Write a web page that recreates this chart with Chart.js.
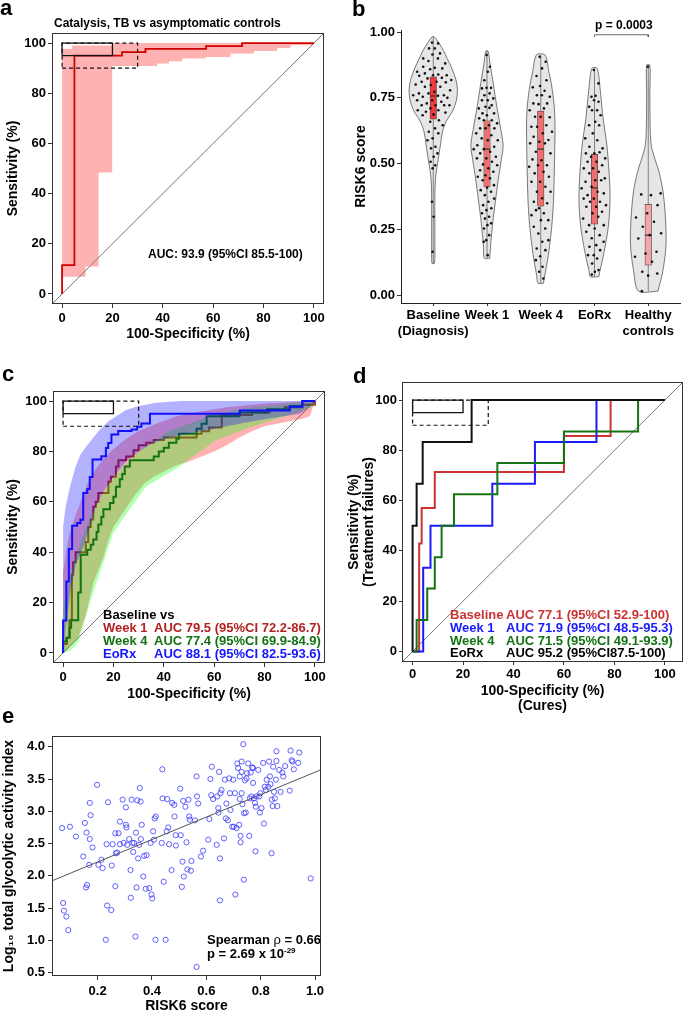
<!DOCTYPE html>
<html>
<head>
<meta charset="utf-8">
<title>RISK6 signature</title>
<script src="https://cdn.jsdelivr.net/npm/chart.js@4.4.1/dist/chart.umd.min.js"></script>
<style>
  html, body { margin: 0; padding: 0; background: #fff; }
  body { position: relative; width: 685px; height: 1015px; overflow: hidden;
         font-family: "Liberation Sans", Arial, sans-serif; font-weight: bold; color: #000; }
  canvas { position: absolute; }
  .t { position: absolute; white-space: nowrap; line-height: 1; }
  .lab { font-size: 22px; }
  .leg { font-size: 13px; line-height: 13px; }
</style>
</head>
<body>
<canvas id="rocA" width="340" height="345" style="left:0;top:0"></canvas>
<canvas id="violinB" width="345" height="345" style="left:340px;top:0"></canvas>
<canvas id="rocC" width="340" height="360" style="left:0;top:345px"></canvas>
<canvas id="rocD" width="345" height="375" style="left:340px;top:345px"></canvas>
<canvas id="scatterE" width="340" height="310" style="left:0;top:705px"></canvas>

<div class="t lab" style="left:0;top:-2.6px">a</div>
<div class="t lab" style="left:352px;top:-1.9px">b</div>
<div class="t lab" style="left:2px;top:363px">c</div>
<div class="t lab" style="left:353px;top:364.7px">d</div>
<div class="t lab" style="left:2px;top:704.7px">e</div>

<div class="t" style="left:54px;top:16.5px;font-size:12px">Catalysis, TB vs asymptomatic controls</div>
<div class="t" style="left:148px;top:247.8px;font-size:12px">AUC: 93.9 (95%CI 85.5-100)</div>
<div class="t" style="left:595px;top:19px;font-size:12px">p = 0.0003</div>

<!-- c legend -->
<div class="t leg" style="left:103px;top:608px">Baseline vs</div>
<div class="t leg" style="left:103px;top:621px;color:#b22222">Week 1</div>
<div class="t leg" style="left:154px;top:621px;color:#b22222">AUC 79.5 (95%CI 72.2-86.7)</div>
<div class="t leg" style="left:103px;top:634px;color:#137313">Week 4</div>
<div class="t leg" style="left:154px;top:634px;color:#137313">AUC 77.4 (95%CI 69.9-84.9)</div>
<div class="t leg" style="left:103px;top:647px;color:#1515ff">EoRx</div>
<div class="t leg" style="left:154px;top:647px;color:#1515ff">AUC 88.1 (95%CI 82.5-93.6)</div>

<!-- d legend -->
<div class="t leg" style="left:450px;top:608.3px;color:#cc3333">Baseline</div>
<div class="t leg" style="left:506px;top:608.3px;color:#cc3333">AUC 77.1 (95%CI 52.9-100)</div>
<div class="t leg" style="left:450px;top:620.7px;color:#1a1aff">Week 1</div>
<div class="t leg" style="left:506px;top:620.7px;color:#1a1aff">AUC 71.9 (95%CI 48.5-95.3)</div>
<div class="t leg" style="left:450px;top:634px;color:#137313">Week 4</div>
<div class="t leg" style="left:506px;top:634px;color:#137313">AUC 71.5 (95%CI 49.1-93.9)</div>
<div class="t leg" style="left:450px;top:646.3px">EoRx</div>
<div class="t leg" style="left:506px;top:646.3px">AUC 95.2 (95%CI87.5-100)</div>

<!-- e stats -->
<div class="t leg" style="left:207px;top:933px">Spearman <span style="font-weight:normal">ρ</span> = 0.66</div>
<div class="t leg" style="left:207px;top:947px">p = 2.69 x 10<span style="font-size:8px;position:relative;top:-5px">-29</span></div>

<script>
// ---------- shared ----------
const pctTicks = [0, 20, 40, 60, 80, 100];
const boxSolid = { fpr: [0, 20], sens: [95, 100] };
const boxDashed = { fpr: [0, 30], sens: [90, 100] };

// ---------- a: catalysis, TB vs asymptomatic controls ----------
const catRoc = [[0,0],[0,11.5],[4.9,11.5],[4.9,95],[23.8,95],[23.8,96.4],[33.1,96.4],[33.1,97.7],[57.2,97.7],[57.2,98.8],[71.5,98.8],[71.5,100],[100,100]];
const catCiUpper = [[0,97.7],[4,97.7],[4,99],[20,99],[20,100],[100,100]];
const catCiLower = [[0,6.9],[9.3,6.9],[9.3,10.9],[14.5,10.9],[14.5,48.4],[19.9,48.4],[19.9,90.8],[37.7,90.8],[37.7,91.8],[42.4,91.8],[42.4,92.7],[47.7,92.7],[47.7,93.8],[57,93.8],[57,94.4],[66.9,94.4],[66.9,95.8],[76.2,95.8],[76.2,96.8],[85.4,96.8],[85.4,98],[90.7,98],[90.7,99.1],[100,99.1]];

// ---------- b: RISK6 score by timepoint ----------
const bCats = [['Baseline', '(Diagnosis)'], ['Week 1'], ['Week 4'], ['EoRx'], ['Healthy', 'controls']];
const bTicks = [0, 0.25, 0.5, 0.75, 1];
const scoreBaseline = [0.96,0.957,0.938,0.938,0.919,0.915,0.90,0.90,0.89,0.881,0.864,0.868,0.862,0.859,0.849,0.839,0.843,0.836,0.836,0.834,0.826,0.824,0.818,0.811,0.811,0.809,0.799,0.801,0.792,0.792,0.779,0.773,0.767,0.76,0.767,0.76,0.758,0.754,0.75,0.741,0.741,0.735,0.729,0.722,0.722,0.722,0.722,0.71,0.703,0.703,0.697,0.694,0.687,0.684,0.665,0.659,0.646,0.634,0.621,0.615,0.596,0.589,0.564,0.558,0.539,0.526,0.507,0.494,0.482,0.355,0.298,0.165];
const scoreWeek1 = [0.913,0.868,0.849,0.817,0.788,0.788,0.786,0.767,0.76,0.748,0.741,0.741,0.722,0.716,0.71,0.712,0.691,0.691,0.684,0.672,0.665,0.665,0.653,0.646,0.634,0.634,0.634,0.615,0.608,0.596,0.589,0.589,0.57,0.564,0.555,0.555,0.545,0.539,0.526,0.52,0.52,0.507,0.497,0.494,0.482,0.475,0.469,0.456,0.45,0.444,0.437,0.418,0.408,0.399,0.393,0.38,0.367,0.355,0.342,0.33,0.323,0.311,0.298,0.291,0.273,0.266,0.253,0.228,0.209,0.203,0.152];
const scoreWeek4 = [0.906,0.887,0.862,0.833,0.817,0.795,0.79,0.777,0.76,0.754,0.76,0.729,0.729,0.726,0.703,0.71,0.678,0.676,0.678,0.64,0.646,0.64,0.621,0.615,0.602,0.59,0.583,0.577,0.577,0.545,0.539,0.513,0.516,0.494,0.494,0.488,0.469,0.463,0.45,0.431,0.431,0.412,0.393,0.393,0.368,0.355,0.349,0.33,0.304,0.311,0.323,0.285,0.285,0.26,0.253,0.234,0.209,0.203,0.177,0.171,0.148,0.133,0.108,0.089,0.063];
const scoreEoRx = [0.856,0.805,0.758,0.754,0.735,0.741,0.716,0.703,0.703,0.684,0.659,0.646,0.646,0.615,0.596,0.589,0.564,0.558,0.539,0.539,0.543,0.526,0.52,0.507,0.507,0.494,0.482,0.482,0.469,0.463,0.444,0.437,0.431,0.437,0.412,0.406,0.393,0.38,0.387,0.367,0.367,0.355,0.355,0.342,0.336,0.336,0.317,0.311,0.291,0.298,0.266,0.266,0.253,0.241,0.228,0.216,0.203,0.19,0.184,0.171,0.152,0.152,0.139,0.12,0.095,0.089,0.078];
const scoreHealthy = [0.868,0.387,0.38,0.383,0.342,0.311,0.295,0.279,0.26,0.235,0.228,0.215,0.165,0.158,0.146,0.127,0.089,0.082,0.074,0.015];
const groupScores = [scoreBaseline, scoreWeek1, scoreWeek4, scoreEoRx, scoreHealthy];
const rangeLo = [0.12, 0.14, 0.045, 0.07, 0.015];
const rangeHi = [0.982, 0.928, 0.913, 0.862, 0.875];
const boxLo = [0.669, 0.412, 0.338, 0.27, 0.114];
const boxHi = [0.83, 0.663, 0.70, 0.535, 0.345];
const medians = [0.757, 0.555, 0.555, 0.408, 0.228];
const violinLevels = [
  [0.12,0.14,0.2,0.3,0.38,0.42,0.46,0.5,0.54,0.58,0.62,0.66,0.70,0.74,0.78,0.82,0.86,0.90,0.93,0.96,0.982],
  [0.14,0.18,0.22,0.29,0.37,0.44,0.52,0.57,0.65,0.72,0.80,0.875,0.928],
  [0.045,0.08,0.15,0.25,0.35,0.45,0.55,0.65,0.72,0.80,0.85,0.913],
  [0.07,0.09,0.165,0.266,0.368,0.469,0.57,0.672,0.773,0.862],
  [0.015,0.089,0.19,0.292,0.393,0.469,0.52,0.57,0.646,0.773,0.875]
];
const violinHalfWidths = [
  [0.02,0.03,0.03,0.03,0.03,0.035,0.05,0.08,0.11,0.14,0.17,0.24,0.36,0.43,0.45,0.42,0.35,0.26,0.19,0.1,0.02],
  [0.05,0.065,0.08,0.115,0.165,0.21,0.27,0.30,0.24,0.18,0.12,0.06,0.02],
  [0.05,0.08,0.14,0.2,0.235,0.25,0.26,0.265,0.25,0.2,0.15,0.08],
  [0.08,0.1,0.18,0.26,0.29,0.27,0.23,0.16,0.11,0.05],
  [0.18,0.27,0.33,0.32,0.275,0.2,0.12,0.055,0.035,0.03,0.03]
];
const boxColors = ['#f23a3a', '#f07070', '#f07070', '#f07070', '#f3a5a8'];
const sigPair = [4, 5];
const sigY = 0.99;

// ---------- c: baseline vs on-treatment ----------
const w1Roc = [[0,0],[0,3.5],[1.5,3.5],[1.5,6],[2.5,6],[2.5,13],[3.5,13],[3.5,31],[4,31],[4,36],[5,36],[5,40],[9,40],[9,44],[10,44],[10,50],[11,50],[11,53],[12,53],[12,58],[13,58],[13,60],[14,60],[14,63.5],[18,63.5],[18,68],[19,68],[19,70],[21,70],[21,74],[22,74],[22,76.5],[25,76.5],[25,78],[28,78],[28,80.5],[30,80.5],[30,82.5],[33,82.5],[33,83.5],[36,83.5],[36,84.5],[40,84.5],[40,85.5],[53,85.5],[53,87],[55,87],[55,88],[58,88],[58,89.5],[63,89.5],[63,94.5],[75,94.5],[75,95.5],[82,95.5],[82,96.5],[88,96.5],[88,97.5],[95,97.5],[95,98.5],[100,98.5],[100,100]];
const w4Roc = [[0,0],[0,4.5],[1.3,4.5],[1.3,6],[2.6,6],[2.6,10],[3.2,10],[3.2,13],[6,13],[6,24],[7,24],[7,39],[9.6,39],[9.6,41],[11,41],[11,43],[12,43],[12,45],[13.3,45],[13.3,48],[14,48],[14,51],[15.2,51],[15.2,54],[16,54],[16,57],[18.6,57],[18.6,59.5],[20,59.5],[20,62],[21,62],[21,66],[22.5,66],[22.5,69],[23.5,69],[23.5,71],[24.5,71],[24.5,74],[26.5,74],[26.5,76.5],[36,76.5],[36,78],[38,78],[38,80],[40,80],[40,81.5],[42,81.5],[42,83.5],[45,83.5],[45,85],[46,85],[46,87],[53,87],[53,89],[55,89],[55,91],[57,91],[57,94],[70,94],[70,95.5],[81,95.5],[81,96.8],[90,96.8],[90,98],[95,98],[95,100],[100,100]];
const eorxRoc = [[0,0],[0,12.9],[1.3,12.9],[1.3,28.4],[2.3,28.4],[2.3,41.3],[3.6,41.3],[3.6,50.5],[5.6,50.5],[5.6,51.6],[6.9,51.6],[6.9,52.9],[8,52.9],[8,63.5],[9.6,63.5],[9.6,65.1],[10.6,65.1],[10.6,69.9],[11.7,69.9],[11.7,76.8],[15.2,76.8],[15.2,78.1],[17,78.1],[17,81.4],[17.9,81.4],[17.9,83.4],[19.2,83.4],[19.2,86.7],[21.9,86.7],[21.9,88.1],[27.2,88.1],[27.2,88.7],[29.4,88.7],[29.4,89.8],[31.1,89.8],[31.1,91.1],[34.5,91.1],[34.5,95],[70.2,95],[70.2,96.3],[90,96.3],[90,97.7],[95,97.7],[95,100],[100,100]];
const w1CiUpper = [[0,32],[2,45],[4,52],[7,60],[10,68],[13,73],[16,77],[20,81],[25,85],[30,88],[37,91],[45,94],[55,96],[65,97.5],[80,99],[100,100]];
const w1CiLower = [[0,0],[3,3],[6,6],[9,15],[12,28],[14,33],[16,38],[18,45],[20,50],[24,56],[28,62],[32,67],[36,70],[40,72],[45,74.5],[50,76],[55,78],[60,80],[65,82.5],[70,85.5],[75,88],[80,90],[85,91],[90,92],[95,93],[98,94],[100,100]];
const w4CiUpper = [[0,18],[2,26],[4,34],[7,44],[10,52],[14,60],[18,67],[22,72],[26,76],[30,80],[36,84],[42,88],[50,91],[58,94],[66,96],[75,97.5],[85,98.5],[100,100]];
const w4CiLower = [[0,0],[3,1],[6,4],[8.6,13],[11.3,22],[14.6,31.7],[19.9,47.6],[24.5,54.3],[29.2,60.9],[33.1,66.2],[39.8,70.2],[46.4,74.1],[51.7,78.1],[56,81],[60,84],[70,88],[80,91.5],[90,94.5],[100,98]];
const eorxCiUpper = [[0,50],[1,58],[3,67],[5,74],[7,79],[10,83],[14,88],[18,92],[25,96.5],[30,98],[37,99.3],[47,100],[100,100]];
const eorxCiLower = [[0,0],[1,10],[3,25],[5,35],[8,42],[10,48],[13,58],[16,64],[20,70],[25,76],[30,80],[36,83.5],[42,85.5],[50,87],[60,89],[70,91],[81,93],[94,95],[100,99.3]];

// ---------- d: treatment failures vs cures ----------
const failBaseline = [[0,0],[2.6,0],[2.6,42.9],[3.6,42.9],[3.6,57.1],[8.8,57.1],[8.8,71.4],[60,71.4],[60,85.7],[78.5,85.7],[78.5,100],[100,100]];
const failWeek1 = [[0,0],[4.2,0],[4.2,33.3],[7.1,33.3],[7.1,50],[31.6,50],[31.6,66.7],[48.5,66.7],[48.5,83.3],[72.9,83.3],[72.9,100],[100,100]];
const failWeek4 = [[0,0],[1.6,0],[1.6,12.5],[5.8,12.5],[5.8,25],[8.8,25],[8.8,37.5],[11.5,37.5],[11.5,50],[16.4,50],[16.4,62.5],[33.6,62.5],[33.6,75],[60,75],[60,87.5],[89.4,87.5],[89.4,100],[100,100]];
const failEoRx = [[0,0],[0,50],[1.6,50],[1.6,66.7],[4,66.7],[4,83.3],[23.4,83.3],[23.4,100],[100,100]];

// ---------- e: RISK6 vs total glycolytic activity ----------
const eXTicks = [0.2, 0.4, 0.6, 0.8, 1.0];
const eYTicks = [0.5, 1.0, 1.5, 2.0, 2.5, 3.0, 3.5, 4.0];
const glycolytic = [[0.069,2.74],[0.073,1.58],[0.076,1.46],[0.085,1.37],[0.092,1.16],[0.098,2.76],[0.12,2.61],[0.147,2.30],[0.153,2.82],[0.157,1.82],[0.159,2.67],[0.161,1.86],[0.169,2.17],[0.171,2.57],[0.171,3.13],[0.174,2.94],[0.181,2.44],[0.198,3.41],[0.203,2.17],[0.214,2.25],[0.218,2.12],[0.23,1.01],[0.233,2.49],[0.235,1.54],[0.238,3.14],[0.25,1.47],[0.252,2.16],[0.255,2.49],[0.265,1.84],[0.265,2.66],[0.267,2.35],[0.272,2.36],[0.277,2.66],[0.282,2.84],[0.282,2.49],[0.292,3.18],[0.296,2.51],[0.304,3.06],[0.304,2.79],[0.306,2.75],[0.309,2.48],[0.316,2.57],[0.321,2.09],[0.322,1.66],[0.325,3.18],[0.328,2.51],[0.331,2.37],[0.334,2.51],[0.339,1.06],[0.341,2.67],[0.343,1.82],[0.346,3.17],[0.349,2.27],[0.353,2.48],[0.355,3.36],[0.358,3.15],[0.359,2.57],[0.362,2.79],[0.368,1.99],[0.371,2.31],[0.377,1.80],[0.38,2.32],[0.39,1.81],[0.395,2.51],[0.398,1.71],[0.401,1.65],[0.404,2.69],[0.407,2.56],[0.41,2.89],[0.413,1.01],[0.414,2.92],[0.438,3.65],[0.439,3.20],[0.436,2.51],[0.443,1.91],[0.45,1.01],[0.454,2.69],[0.456,3.19],[0.46,2.75],[0.463,2.49],[0.472,2.09],[0.474,3.13],[0.482,3.10],[0.483,2.92],[0.487,2.63],[0.488,2.47],[0.504,3.35],[0.506,2.63],[0.51,1.83],[0.512,2.22],[0.515,3.16],[0.517,1.99],[0.523,3.07],[0.527,2.52],[0.53,2.10],[0.534,3.18],[0.537,2.92],[0.539,2.87],[0.543,2.08],[0.545,2.23],[0.564,0.59],[0.558,2.86],[0.564,3.54],[0.566,3.23],[0.57,3.12],[0.58,2.30],[0.588,2.39],[0.607,2.56],[0.611,2.88],[0.615,3.50],[0.618,3.25],[0.62,3.69],[0.625,3.19],[0.638,2.48],[0.64,3.23],[0.644,3.05],[0.645,2.98],[0.647,3.61],[0.65,2.27],[0.65,1.62],[0.652,3.28],[0.656,3.33],[0.665,2.58],[0.668,3.49],[0.672,2.89],[0.674,3.12],[0.679,2.86],[0.684,3.51],[0.687,3.28],[0.689,3.02],[0.695,2.76],[0.699,3.49],[0.701,2.76],[0.705,3.28],[0.707,1.71],[0.711,2.74],[0.714,3.74],[0.717,3.67],[0.721,2.79],[0.723,3.54],[0.723,3.19],[0.726,2.62],[0.726,2.52],[0.73,3.28],[0.73,3.77],[0.73,3.61],[0.733,3.11],[0.736,4.04],[0.738,1.94],[0.739,2.97],[0.742,3.48],[0.745,2.98],[0.748,3.51],[0.75,3.59],[0.754,3.74],[0.758,2.62],[0.76,3.20],[0.763,3.60],[0.766,3.23],[0.769,3.68],[0.772,3.67],[0.772,3.44],[0.775,3.20],[0.779,3.13],[0.781,2.38],[0.782,3.07],[0.785,3.23],[0.791,3.64],[0.795,3.23],[0.797,2.98],[0.799,3.28],[0.803,3.05],[0.809,3.75],[0.812,2.81],[0.815,3.38],[0.819,3.33],[0.822,3.49],[0.828,3.38],[0.831,3.77],[0.834,3.54],[0.836,3.42],[0.84,2.35],[0.841,3.18],[0.844,3.08],[0.846,3.69],[0.849,3.30],[0.852,3.20],[0.856,3.49],[0.858,3.78],[0.858,3.93],[0.861,3.08],[0.868,3.64],[0.873,3.30],[0.88,3.60],[0.883,3.54],[0.89,3.70],[0.907,3.32],[0.91,3.94],[0.914,3.79],[0.917,3.77],[0.922,3.65],[0.938,3.75],[0.942,3.91],[0.984,1.96]];
const fitX = [0.03, 1.02];
const fitY = [1.92, 3.64];

// ---------- helpers ----------
Chart.defaults.font.family = '"Liberation Sans", Arial, sans-serif';
Chart.defaults.font.weight = 'bold';
Chart.defaults.color = '#000';

const pts = pairs => pairs.map(p => ({ x: p[0], y: p[1] }));
const band = (upper, lower) => pts(upper.concat(lower.slice().reverse()));
const rect = b => pts([[b.fpr[0], b.sens[0]], [b.fpr[1], b.sens[0]], [b.fpr[1], b.sens[1]], [b.fpr[0], b.sens[1]], [b.fpr[0], b.sens[0]]]);
const diag = r => pts([[r[0], r[0]], [r[1], r[1]]]);

function lineSet(data, color, width, extra) {
  return Object.assign({ type: 'line', data, borderColor: color, borderWidth: width, pointRadius: 0, fill: false, tension: 0 }, extra || {});
}
function bandSet(data, color) {
  return { type: 'line', data, borderColor: 'rgba(0,0,0,0)', borderWidth: 0, backgroundColor: color, pointRadius: 0, fill: 'shape', tension: 0 };
}

function linAxis(o) {
  return {
    type: 'linear', min: o.min, max: o.max, offset: false, beginAtZero: false,
    afterBuildTicks: s => { s.ticks = o.ticks.map(v => ({ value: v })); },
    afterFit: s => { if (s.isHorizontal()) s.height = o.size; else s.width = o.size; },
    border: { display: !!o.line, color: '#222', width: 1 },
    grid: { offset: false, drawOnChartArea: false, drawTicks: true, tickLength: o.tickLen || 4, tickColor: '#333', tickWidth: 1 },
    ticks: { padding: o.pad, autoSkip: false, maxRotation: 0, minRotation: 0, color: '#000',
             font: { size: 13, weight: 'bold' }, callback: o.fmt },
    title: { display: !!o.title, text: o.title, color: '#000',
             font: { size: 14, weight: 'bold', lineHeight: o.lh || 1.2 }, padding: o.titlePad || 0 }
  };
}

const frame = {
  id: 'frame',
  afterDatasetsDraw(chart) {
    const { ctx, chartArea: a } = chart;
    ctx.save();
    ctx.strokeStyle = '#333';
    ctx.lineWidth = 1;
    ctx.strokeRect(a.left + 0.5, a.top + 0.5, a.width - 1, a.height - 1);
    ctx.restore();
  }
};

function makeChart(id, datasets, pad, x, y, framed) {
  return new Chart(document.getElementById(id), {
    type: 'line',
    data: { datasets },
    options: {
      responsive: false, animation: false, events: [],
      layout: { padding: pad },
      elements: { point: { radius: 0, hoverRadius: 0 }, line: { tension: 0 } },
      plugins: { legend: { display: false }, tooltip: { enabled: false } },
      scales: { x, y }
    },
    plugins: framed ? [frame] : []
  });
}

const pctFmt = v => String(v);
const specTitle = '100-Specificity (%)';
const sensTitle = 'Sensitivity (%)';

// ---------- a ----------
const rangeA = [-4, 104];
makeChart('rocA', [
  lineSet(rect(boxSolid), '#111', 1.3),
  lineSet(rect(boxDashed), '#111', 1.2, { borderDash: [4, 3] }),
  lineSet(pts(catRoc), '#d00000', 1.8),
  lineSet(diag(rangeA), '#777', 1),
  bandSet(band(catCiUpper, catCiLower), 'rgba(255,0,0,0.3)')
], { left: 0, top: 33, right: 16, bottom: 0 },
  linAxis({ min: rangeA[0], max: rangeA[1], ticks: pctTicks, size: 41, pad: 3, fmt: pctFmt, title: specTitle, titlePad: { top: 0, bottom: 2 } }),
  linAxis({ min: rangeA[0], max: rangeA[1], ticks: pctTicks, size: 52, pad: 2, fmt: pctFmt, title: sensTitle, titlePad: { top: 5, bottom: 0 } }),
  true);

// ---------- b ----------
function halfWidthAt(levels, widths, y) {
  if (y <= levels[0]) return widths[0];
  for (let k = 1; k < levels.length; k++) {
    if (y <= levels[k]) {
      const t = (y - levels[k - 1]) / (levels[k] - levels[k - 1]);
      return widths[k - 1] + t * (widths[k] - widths[k - 1]);
    }
  }
  return widths[widths.length - 1];
}
function violinOutline(g) {
  const lv = violinLevels[g], hw = violinHalfWidths[g], c = g + 1;
  const right = lv.map((y, k) => ({ x: c + hw[k], y }));
  const left = lv.map((y, k) => ({ x: c - hw[k], y })).reverse();
  return right.concat(left, [right[0]]);
}
const dots = [];
groupScores.forEach((ys, g) => ys.forEach((y, i) => {
  const hw = halfWidthAt(violinLevels[g], violinHalfWidths[g], y);
  const u = (i * 0.618034 + 0.37) % 1;
  dots.push({ x: g + 1 + hw * 0.85 * (2 * u - 1), y });
}));
const whiskers = [];
rangeLo.forEach((lo, g) => whiskers.push({ x: g + 1, y: lo }, { x: g + 1, y: rangeHi[g] }, { x: g + 1, y: null }));

const bSets = [
  { type: 'scatter', data: dots, pointRadius: 1.3, pointBackgroundColor: '#111', pointBorderWidth: 0 },
  { type: 'scatter', data: medians.map((m, g) => ({ x: g + 1, y: m })), pointStyle: 'line', pointRadius: 3.3, pointBorderColor: '#333', pointBorderWidth: 1.2 },
  { type: 'bar', data: boxLo.map((lo, g) => ({ x: g + 1, y: [lo, boxHi[g]] })), backgroundColor: boxColors,
    borderColor: '#444', borderWidth: 0.7, barThickness: 6.5, borderSkipped: false, grouped: false },
  lineSet(whiskers, '#666', 0.8)
];
violinLevels.forEach((lv, g) => bSets.push(lineSet(violinOutline(g), '#444', 0.7, { fill: 'shape', backgroundColor: '#e6e6e6', tension: 0.3 })));
bSets.push(lineSet(pts([[sigPair[0], sigY - 0.008], [sigPair[0], sigY], [sigPair[1], sigY], [sigPair[1], sigY - 0.008]]), '#444', 0.8));

makeChart('violinB', bSets, { left: 0, top: 30, right: 0, bottom: 0 },
  linAxis({ min: 0.4, max: 5.6, ticks: [1, 2, 3, 4, 5], size: 42, pad: 2, tickLen: 3, line: true, fmt: v => bCats[v - 1] }),
  linAxis({ min: -0.03, max: 1.008, ticks: bTicks, size: 61, pad: 2, tickLen: 4, line: true, fmt: v => v.toFixed(2), title: 'RISK6 score', titlePad: { top: 12.6, bottom: 0 } }),
  false);

// ---------- c ----------
const rangeC = [-4, 104];
makeChart('rocC', [
  lineSet(rect(boxSolid), '#111', 1.3),
  lineSet(rect(boxDashed), '#111', 1.2, { borderDash: [4, 3] }),
  lineSet(pts(eorxRoc), '#1010ff', 2),
  bandSet(band(eorxCiUpper, eorxCiLower), 'rgba(0,0,255,0.3)'),
  lineSet(pts(w4Roc), '#137313', 2),
  bandSet(band(w4CiUpper, w4CiLower), 'rgba(0,255,0,0.3)'),
  lineSet(pts(w1Roc), '#b22222', 2),
  bandSet(band(w1CiUpper, w1CiLower), 'rgba(255,0,0,0.3)'),
  lineSet(diag(rangeC), '#777', 1)
], { left: 0, top: 46, right: 15, bottom: 0 },
  linAxis({ min: rangeC[0], max: rangeC[1], ticks: pctTicks, size: 42, pad: 3, fmt: pctFmt, title: specTitle, titlePad: { top: 0, bottom: 2 } }),
  linAxis({ min: rangeC[0], max: rangeC[1], ticks: pctTicks, size: 53, pad: 2, fmt: pctFmt, title: sensTitle, titlePad: { top: 5, bottom: 0 } }),
  true);

// ---------- d ----------
const rangeD = [-4.2, 107.2];
makeChart('rocD', [
  lineSet(rect(boxSolid), '#111', 1.3),
  lineSet(rect(boxDashed), '#111', 1.2, { borderDash: [4, 3] }),
  lineSet(pts(failEoRx), '#111', 2),
  lineSet(pts(failWeek4), '#137313', 2),
  lineSet(pts(failWeek1), '#1a1aff', 2),
  lineSet(pts(failBaseline), '#cc3333', 2),
  lineSet(diag(rangeD), '#777', 1)
], { left: 0, top: 37, right: 2, bottom: 0 },
  linAxis({ min: rangeD[0], max: rangeD[1], ticks: pctTicks, size: 58, pad: 2, tickLen: 3, fmt: pctFmt, title: [specTitle, '(Cures)'], lh: '15px', titlePad: { top: 0, bottom: 6 } }),
  linAxis({ min: rangeD[0], max: rangeD[1], ticks: pctTicks, size: 62, pad: 2, tickLen: 3, fmt: pctFmt, title: [sensTitle, '(Treatment failures)'], lh: '15px', titlePad: { top: 6.5, bottom: 0 } }),
  true);

// ---------- e ----------
makeChart('scatterE', [
  lineSet(pts([[fitX[0], fitY[0]], [fitX[1], fitY[1]]]), '#555', 1),
  { type: 'scatter', data: pts(glycolytic), pointStyle: 'circle', pointRadius: 2.6, pointBorderWidth: 0.8,
    pointBorderColor: '#3a3aff', pointBackgroundColor: 'rgba(0,0,0,0)' }
], { left: 0, top: 31, right: 19, bottom: 0 },
  linAxis({ min: 0.032, max: 1.022, ticks: eXTicks, size: 39, pad: 4, fmt: v => v.toFixed(1), title: 'RISK6 score', titlePad: { top: 0, bottom: 0 } }),
  linAxis({ min: 0.449, max: 4.166, ticks: eYTicks, size: 52, pad: 3, fmt: v => v.toFixed(1), title: 'Log\u2081\u2080 total glycolytic activity index', titlePad: { top: 1, bottom: 0 } }),
  true);
</script>
</body>
</html>
